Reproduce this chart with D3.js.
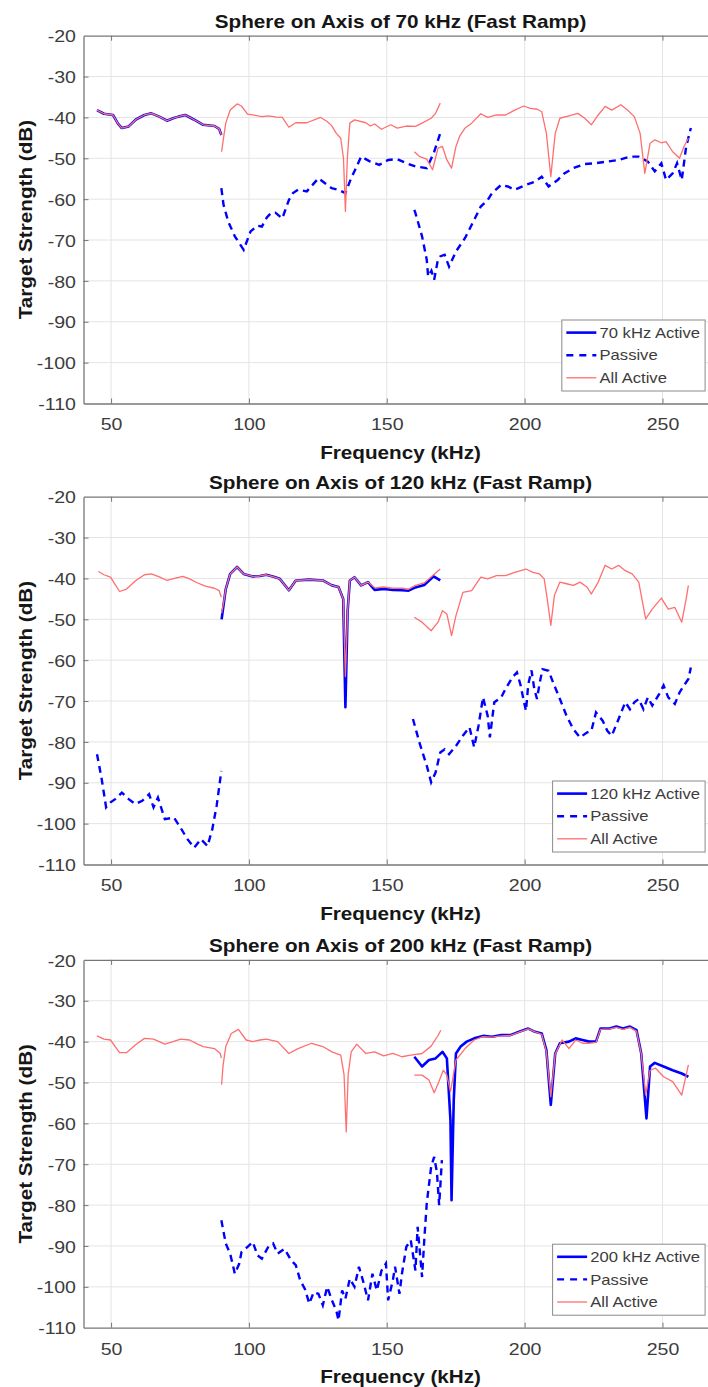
<!DOCTYPE html>
<html><head><meta charset="utf-8">
<script src="https://cdn.jsdelivr.net/npm/d3@7/dist/d3.min.js"></script>
<style>
body{margin:0;background:#fff}
svg{display:block}
text{font-family:"Liberation Sans",Arial,Helvetica,sans-serif}
</style>
</head><body>
<svg id="chart" width="708" height="1387"></svg>
<script>
// ---------- tick labels / text ----------
const freqTicks = [50, 100, 150, 200, 250];
const tsTicks = [-20, -30, -40, -50, -60, -70, -80, -90, -100, -110];
const titles = ["Sphere on Axis of 70 kHz (Fast Ramp)", "Sphere on Axis of 120 kHz (Fast Ramp)", "Sphere on Axis of 200 kHz (Fast Ramp)"];
const activeLabels = ["70 kHz Active", "120 kHz Active", "200 kHz Active"];
const passiveLabel = "Passive";
const allActiveLabel = "All Active";
const xLabel = "Frequency (kHz)";
const yLabel = "Target Strength (dB)";

// ---------- panel 1 : 70 kHz ----------
const active70 = [
  [[44.9,-38.2],[47.4,-39.1],[50.7,-39.4],[52.5,-41.5],[53.9,-42.6],[56.4,-42.2],[59,-40.5],[62.1,-39.4],[64.6,-39.0],[67.5,-39.8],[70.3,-40.8],[72.5,-40.2],[74.4,-39.8],[76.9,-39.4],[80,-40.5],[83.4,-41.8],[87.5,-42.1],[89.2,-42.8],[90,-44.3]]
];
const passive70 = [
  [[90,-57.3],[90.8,-61.4],[92.5,-65.5],[94.9,-69.1],[98.1,-72.4],[100.6,-67.9],[103,-66.5],[104.7,-66.7],[106.5,-64.5],[108,-63.4],[109.6,-63.3],[112.1,-64.7],[114.5,-60.2],[116,-58.5],[117.8,-57.7],[121,-58.1],[125.2,-54.9],[127.6,-56.1],[130,-57.3],[132.5,-57.7],[135,-58.5],[137,-55],[139.1,-52],[140.7,-49.6],[144,-50.8],[147.3,-51.6],[150.5,-50.4],[153.8,-50.2],[157.1,-51.2],[160.4,-52],[164.5,-52.4],[167,-48.8],[169.4,-43.9]],
  [[160,-62.6],[160.4,-63.4],[162.8,-69.1],[164.5,-74.8],[165,-78.9],[166.2,-77.5],[167.2,-79.7],[168.5,-75],[169.4,-74],[171,-73.6],[172.6,-76.5],[175.1,-72.8],[178.4,-69.5],[181.7,-65.1],[184.1,-61.8],[186.6,-60.2],[188.2,-58.5],[191.5,-56.5],[193.9,-56.9],[196.4,-57.7],[200.5,-56.5],[203.8,-55.7],[206.2,-54.5],[208.7,-56.9],[212,-55.3],[214.4,-53.7],[217.7,-52.4],[221.8,-51.4],[225.9,-51.2],[230,-50.8],[234.1,-50.4],[238.2,-49.6],[241.4,-49.6],[244.7,-50.8],[247.2,-53.2],[249.6,-51.2],[251.3,-55.3],[253.7,-53.7],[255.3,-51.2],[257,-55.3],[258.6,-47.1],[260.3,-42.6]]
];
const allActive70 = [
  [[44.9,-38.2],[47.4,-39.1],[50.7,-39.4],[52.5,-41.5],[53.9,-42.6],[56.4,-42.2],[59,-40.5],[62.1,-39.4],[64.6,-39.0],[67.5,-39.8],[70.3,-40.8],[72.5,-40.2],[74.4,-39.8],[76.9,-39.4],[80,-40.5],[83.4,-41.8],[87.5,-42.1],[89.2,-42.8],[90,-44.3]],
  [[90.1,-48.4],[90.8,-45],[91.6,-41.4],[93.2,-38.2],[95.7,-36.7],[97.3,-37.2],[99.5,-39.2],[101.4,-39.4],[104.7,-39.8],[107.1,-39.6],[110,-39.9],[112.1,-40],[114.5,-42.4],[117,-41.3],[121,-41.3],[126,-40],[128.4,-41],[130,-42],[131.7,-43.9],[133.3,-45.1],[134.3,-50],[135,-63],[135.7,-50],[136.6,-41.4],[138.3,-40.6],[142.4,-41.3],[144,-42.1],[145.6,-41.6],[148.1,-42.9],[151.4,-41.8],[153.8,-42.6],[157.1,-42.1],[160.4,-42.2],[162.8,-41.4],[166.1,-40.2],[167.7,-39],[169.4,-36.5]],
  [[160,-48.4],[162,-49.6],[164.5,-50.2],[166.6,-52.8],[168.6,-47.5],[170.2,-47.1],[171.8,-50.4],[173.5,-52.4],[175.1,-47.1],[176.5,-44.5],[178.4,-42.6],[180.8,-41.4],[184.1,-39.1],[186.6,-40],[189.8,-39.4],[193.1,-39.4],[196.4,-38.2],[199.7,-37.2],[202.1,-37.8],[204.6,-38],[206.2,-38.6],[207.9,-43.9],[209.5,-54.5],[211.1,-43.9],[212.8,-40.2],[216.1,-39.6],[219.3,-39],[221.8,-40.2],[224.2,-41.8],[226.7,-39.4],[229.2,-37.3],[231.6,-38.2],[234.9,-36.9],[237.3,-38.2],[239.8,-39.8],[241.9,-43.9],[243.6,-53.7],[245.5,-46.3],[247.2,-45.5],[249.6,-46.2],[251.3,-45.9],[253.7,-48.4],[256.2,-50],[257.8,-47.1],[259.4,-45.1]]
];

// ---------- panel 2 : 120 kHz ----------
const active120 = [
  [[90.1,-50],[90.8,-46.5],[91.6,-42.6],[93.2,-38.9],[95.7,-37.2],[98.1,-38.9],[101.4,-39.5],[104,-39.4],[106.3,-39.1],[109,-39.6],[111.2,-40.1],[114.5,-42.9],[117,-40.5],[121.9,-40.3],[126.8,-40.5],[130.1,-41.7],[132.5,-42.1],[134.2,-45],[135,-71.5],[135.8,-48],[136.6,-40.5],[138.3,-39.7],[140.7,-41.7],[143.2,-40.9],[145.6,-42.8],[148.9,-42.6],[152.2,-42.8],[155.5,-42.9],[157.9,-43],[160.4,-42.2],[163.6,-41.6],[167,-39.5],[169.4,-40.5]]
];
const passive120 = [
  [[44.9,-83],[46.6,-89.1],[48.2,-96],[49.8,-94.8],[51.5,-94],[53.9,-92.4],[56.4,-94],[58.8,-95.2],[61.3,-94.4],[63.8,-92.8],[65.4,-96],[67,-93.6],[69.5,-98.9],[72.8,-98.5],[75.2,-101],[77.7,-103.8],[80.1,-105.9],[82.6,-103.8],[85,-105.5],[86.7,-101.4],[88.3,-95.6],[90,-87.1]],
  [[159.5,-74.4],[162,-80.5],[164.5,-85.8],[166.1,-89.9],[167.7,-87.5],[169.4,-82.6],[171,-81.8],[172.6,-83],[175.1,-81],[177.6,-78.5],[180,-76.4],[181.7,-81.3],[183.3,-76],[184.9,-69.1],[186.6,-73.6],[187.4,-78.9],[189,-70.3],[191.5,-69.1],[193.1,-67],[195.6,-64.2],[197.2,-63],[198.5,-66],[199.7,-70],[200.5,-72.4],[201.3,-66],[202.5,-62.5],[203.5,-67],[204.5,-69.5],[205.4,-65.8],[206.5,-62.2],[208.7,-62.6],[210.3,-65.4],[212.8,-69.5],[215.2,-73.6],[217.7,-76.9],[220.1,-78.9],[222.6,-77.7],[224.2,-77.3],[225.9,-72.8],[228.3,-74.8],[230,-77.3],[231.6,-78.5],[234.1,-74.4],[236.5,-70.3],[238.2,-72],[239.8,-70.3],[241.4,-69.5],[243.1,-72],[244.7,-69.1],[246.3,-71.1],[248.8,-68.3],[250.4,-66.2],[252.1,-69.1],[254.5,-70.7],[256.2,-67.9],[257.8,-66.2],[259.4,-64.6],[260.3,-61.8]]
];
const allActive120 = [
  [[45.4,-38.3],[47.4,-39.1],[49.8,-39.7],[51.5,-41.5],[53.1,-43.2],[55.6,-42.6],[59,-40.5],[62.1,-39.1],[64.6,-38.9],[67.5,-39.6],[70.3,-40.5],[73,-40],[76,-39.5],[78.5,-40.1],[81,-41],[84.2,-41.9],[87.5,-42.4],[89.2,-43],[90,-44.6]],
  [[90.1,-48.5],[90.8,-46],[91.6,-42.6],[93.2,-38.9],[95.7,-37.2],[98.1,-38.9],[101.4,-39.5],[104,-39.4],[106.3,-39.1],[109,-39.6],[111.2,-40.1],[114.5,-42.9],[117,-40.5],[121.9,-40.3],[126.8,-40.5],[130.1,-41.7],[132.5,-42.1],[134.2,-45],[135,-64],[135.8,-48],[136.6,-40.5],[138.3,-39.7],[140.7,-41.7],[143.2,-40.9],[145.6,-42.3],[148.9,-42.1],[152.2,-42.4],[155.5,-42.4],[157.9,-42.6],[160.4,-41.7],[163.6,-41.1],[167,-39.1],[169.4,-37.7]],
  [[160,-49.5],[162.8,-50.7],[166.1,-52.8],[168.6,-50.7],[170.2,-47.9],[171.8,-48.7],[173.5,-54],[175.1,-49.1],[177.6,-43.4],[180.8,-43],[184.1,-39.7],[186.6,-40.1],[189.8,-39.3],[193.1,-39.3],[196.4,-38.5],[200.5,-37.7],[203,-38.5],[205.4,-38.9],[207.1,-40.1],[208.2,-45],[209.5,-51.5],[210.8,-44.2],[212.8,-40.9],[215.2,-41.3],[217.7,-41.7],[220.1,-40.9],[222.6,-42.1],[224.2,-43.8],[226.7,-40.9],[229.2,-36.8],[231.6,-37.7],[234.1,-36.8],[236.5,-38.1],[239,-38.9],[241.4,-40.9],[243.9,-49.9],[246.3,-47.5],[249.6,-44.8],[252.1,-47.5],[254.5,-47.1],[257,-50.7],[258.6,-45],[259.4,-41.7]]
];

// ---------- panel 3 : 200 kHz ----------
const active200 = [
  [[160,-43.7],[162.8,-46.1],[165.3,-44.5],[167.7,-44.1],[170.2,-42.5],[171.8,-44.1],[173.1,-59.2],[173.5,-78.8],[174.3,-54.3],[175.1,-42.9],[176.8,-41.2],[179,-40],[181.7,-39.2],[184.9,-38.6],[188.2,-38.8],[191.5,-38.4],[194.8,-38.4],[198,-37.6],[201.3,-36.8],[203.8,-37.6],[206.2,-38],[207.9,-42.1],[209.5,-55.5],[211.1,-42.9],[212.8,-40.4],[216.1,-40],[218.5,-39.2],[221,-39.6],[223.4,-40],[225.9,-40],[227.5,-36.8],[230.8,-36.8],[233.3,-36.3],[235.7,-36.8],[238.2,-36.3],[240.6,-37.2],[242.3,-42.9],[244.2,-58.8],[245.5,-46.1],[247.2,-45.2],[250.4,-46.1],[253.7,-47],[257,-47.8],[259.4,-48.6]]
];
const passive200 = [
  [[90,-83.7],[91.6,-89.4],[93.2,-91.9],[94.9,-96.8],[96.5,-94.3],[97.3,-91.5],[99.5,-90.2],[101.4,-89],[103.1,-92.3],[104.7,-93.1],[107.1,-90.1],[108.8,-89.4],[110.4,-91.9],[112.9,-90.7],[115.3,-93.5],[117,-94.7],[118.6,-98.4],[120.3,-100.5],[121.9,-104.1],[123.5,-101.3],[125.2,-101.7],[126.8,-104.5],[128.4,-100],[130.1,-103.3],[131.7,-105.8],[132.5,-108.2],[133.8,-100.9],[135,-102.9],[136.6,-98],[138.3,-100],[139.9,-95.1],[141.5,-98.8],[143.2,-103.3],[144.8,-96.8],[146.4,-100.9],[148.1,-96],[149.7,-94.3],[150.5,-103.3],[152.2,-98.4],[153,-95.1],[154.6,-101.7],[155.5,-96.8],[157.1,-90.2],[158.7,-88.6],[160.4,-96],[161.2,-85.3],[162.8,-97.6],[163.6,-88.6],[164.5,-79.6],[166.1,-70.6],[167.2,-68.2],[168.2,-72],[169,-80],[170,-69]]
];
const allActive200 = [
  [[44.9,-38.6],[47.4,-39.4],[49.8,-39.6],[51.5,-41.2],[53.1,-42.7],[55.6,-42.7],[58.8,-40.8],[62.1,-39.2],[65.4,-39.4],[69.5,-40.6],[72.5,-40],[75.2,-39.4],[78.5,-39.6],[81,-40.5],[83.4,-41.2],[87.5,-41.7],[89.6,-42.9],[90,-44]],
  [[90.1,-50.5],[90.6,-46],[91.6,-41.2],[93.6,-38],[96.2,-37],[99,-39.6],[101.4,-40],[104,-39.6],[106.3,-39.4],[110.4,-40],[114.5,-42.9],[117.8,-41.7],[122.7,-40.4],[126.8,-41.2],[130.1,-42.5],[133.3,-43.3],[134.5,-48],[135.3,-62.1],[136,-48],[137.1,-42.5],[139.1,-40.6],[142.4,-42.9],[145.6,-42.5],[148.9,-43.5],[152.2,-42.9],[155.5,-43.7],[158.7,-43.3],[162.8,-42.9],[166.1,-41.1],[168.6,-38.5],[169.6,-37.2]],
  [[160,-48.2],[162.8,-48.2],[165.3,-49.4],[167.2,-52.5],[168.9,-49.8],[170.5,-47],[171.8,-48.2],[173.1,-52.3],[175.1,-44.5],[178.4,-41.7],[181.7,-39.6],[184.9,-38.8],[188.2,-38.9],[191.5,-38.6],[194.8,-38.5],[198,-37.7],[201.3,-36.9],[203.8,-37.6],[206.2,-38.2],[207.9,-42.5],[209.5,-53.5],[211.1,-43],[213.6,-39.6],[216.1,-41.7],[218.5,-39.6],[221,-40.4],[223.4,-40.4],[225.9,-40.2],[227.5,-37],[230.8,-36.9],[233.3,-36.5],[235.7,-37],[238.2,-36.5],[240.6,-37.5],[242.3,-43],[243.9,-53],[245.5,-47],[247.5,-46.5],[250.4,-48.6],[253.7,-49.8],[257,-53.1],[259.4,-45.7]]
];

// ---------- layout ----------
const panelTops = [35.7, 496.7, 959.9];
const panelHeight = 367.8;
const xDomain = [40, 270];
const yDomain = [-110, -20];
const STRETCH = 1.15;

const panels = [
  {active: active70, passive: passive70, all: allActive70},
  {active: active120, passive: passive120, all: allActive120},
  {active: active200, passive: passive200, all: allActive200}
];

const svg = d3.select("#chart");
const x = d3.scaleLinear().domain(xDomain).range([83.5, 717.6]);

const BLUE = "#0000ff", RED = "#ff6f6f";
const AXIS = "#777777", GRID = "#e4e4e4", TICKTXT = "#3c3c3c", LABTXT = "#161616";
const fmt = d => String(d);

panels.forEach((p, i) => {
  const top = panelTops[i], bottom = top + panelHeight;
  const y = d3.scaleLinear().domain(yDomain).range([bottom, top]);
  const g = svg.append("g");
  const xl = x.range()[0], xr = x.range()[1];

  // grid
  g.append("g").selectAll("line").data(freqTicks).join("line")
    .attr("x1", d => x(d)).attr("x2", d => x(d)).attr("y1", top).attr("y2", bottom)
    .attr("stroke", GRID).attr("stroke-width", 1);
  g.append("g").selectAll("line").data(tsTicks.filter(d => d > -110 && d < -20)).join("line")
    .attr("x1", xl).attr("x2", xr).attr("y1", d => y(d)).attr("y2", d => y(d))
    .attr("stroke", GRID).attr("stroke-width", 1);

  // x axis (bottom)
  const xa = g.append("g").attr("transform", `translate(0,${bottom})`)
    .call(d3.axisBottom(x).tickValues(freqTicks).tickSizeInner(-5).tickSizeOuter(0).tickFormat(fmt));
  xa.select(".domain").attr("stroke", AXIS).attr("stroke-width", 1.3);
  xa.selectAll(".tick line").attr("stroke", AXIS);
  xa.selectAll(".tick text").attr("y", 27).attr("dy", null)
    .attr("transform", `scale(${STRETCH},1)`)
    .attr("fill", TICKTXT).style("font-size", "17px");

  // top axis line + inward ticks
  const xt = g.append("g").attr("transform", `translate(0,${top})`)
    .call(d3.axisTop(x).tickValues(freqTicks).tickSizeInner(-5).tickSizeOuter(0).tickFormat(""));
  xt.select(".domain").attr("stroke", AXIS).attr("stroke-width", 1.3);
  xt.selectAll(".tick line").attr("stroke", AXIS);

  // y axis (left)
  const ya = g.append("g").attr("transform", `translate(${xl},0)`)
    .call(d3.axisLeft(y).tickValues(tsTicks).tickSizeInner(-5).tickSizeOuter(0).tickFormat(fmt));
  ya.select(".domain").attr("stroke", AXIS).attr("stroke-width", 1.3);
  ya.selectAll(".tick line").attr("stroke", AXIS);
  ya.selectAll(".tick text").attr("x", -7.6 / STRETCH).attr("dy", "0.36em")
    .attr("transform", `scale(${STRETCH},1)`)
    .attr("fill", TICKTXT).style("font-size", "17px");
  ya.selectAll(".tick").filter(d => d === -20 || d === -110).select("line").remove();

  // series
  const line = d3.line().x(d => x(d[0])).y(d => y(d[1]));
  const clipId = "clip" + i;
  svg.append("clipPath").attr("id", clipId).append("rect")
    .attr("x", xl).attr("y", top).attr("width", xr - xl).attr("height", panelHeight);
  const plot = g.append("g").attr("clip-path", `url(#${clipId})`);
  plot.selectAll("path.act").data(p.active).join("path").attr("class", "act")
    .attr("d", line).attr("fill", "none").attr("stroke", BLUE).attr("stroke-width", 2.6)
    .attr("stroke-linejoin", "round");
  plot.selectAll("path.pas").data(p.passive).join("path").attr("class", "pas")
    .attr("d", line).attr("fill", "none").attr("stroke", BLUE).attr("stroke-width", 2.4)
    .attr("stroke-dasharray", "7,5");
  plot.selectAll("path.all").data(p.all).join("path").attr("class", "all")
    .attr("d", line).attr("fill", "none").attr("stroke", RED).attr("stroke-width", 1.3)
    .attr("stroke-linejoin", "round");

  const cx = (xl + xr) / 2;
  // title
  g.append("text").attr("transform", `translate(${cx},${top - 8}) scale(${STRETCH},1)`)
    .attr("text-anchor", "middle").attr("fill", LABTXT)
    .style("font-size", "18px").style("font-weight", "bold").text(titles[i]);
  // x label
  g.append("text").attr("transform", `translate(${cx},${bottom + 55}) scale(${STRETCH},1)`)
    .attr("text-anchor", "middle").attr("fill", LABTXT)
    .style("font-size", "18px").style("font-weight", "bold").text(xLabel);
  // y label
  g.append("text").attr("transform", `translate(31.5,${(top + bottom) / 2}) rotate(-90) scale(${STRETCH},1)`)
    .attr("text-anchor", "middle").attr("fill", LABTXT)
    .style("font-size", "18px").style("font-weight", "bold").text(yLabel);

  // legend
  const entries = [
    {label: activeLabels[i], dash: null, color: BLUE, w: 2.6},
    {label: passiveLabel, dash: "7,6", color: BLUE, w: 2.4},
    {label: allActiveLabel, dash: null, color: RED, w: 1.3}
  ];
  const lg = g.append("g");
  const box = lg.append("rect");
  const rows = lg.selectAll("g.row").data(entries).join("g").attr("class", "row");
  const texts = rows.append("text").attr("fill", TICKTXT).style("font-size", "14.2px")
    .text(d => d.label);
  const maxW = d3.max(texts.nodes(), n => n.getComputedTextLength()) * 1.17;
  const boxW = 4.5 + 30 + 3.2 + maxW + 5;
  const boxH = 71;
  const boxR = xr - 12.5, boxB = bottom - 12.5;
  const bx = boxR - boxW, by = boxB - boxH;
  box.attr("x", bx).attr("y", by).attr("width", boxW).attr("height", boxH)
    .attr("fill", "#fff").attr("stroke", "#8a8a8a").attr("stroke-width", 1);
  rows.attr("transform", (d, k) => `translate(${bx},${by + 12.6 + k * 22.6})`);
  rows.append("line").attr("x1", 4.5).attr("x2", 34.5).attr("y1", 0).attr("y2", 0)
    .attr("stroke", d => d.color).attr("stroke-width", d => d.w)
    .attr("stroke-dasharray", d => d.dash);
  texts.attr("transform", `translate(37.7,5.2) scale(1.17,1)`);
});
</script>
</body></html>
